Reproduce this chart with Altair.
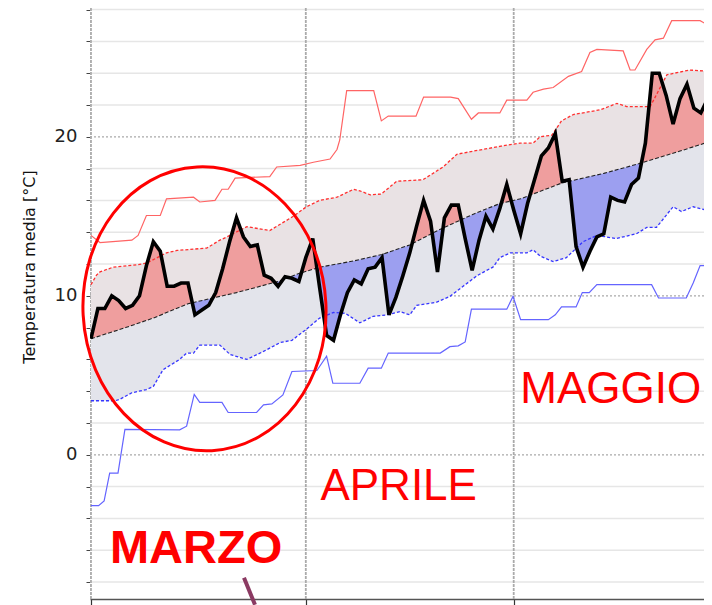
import altair as alt
import numpy as np
import pandas as pd

# ---------------- data (day 0 = 1 March) ----------------
obs_day = list(range(91))
obs_temp = [7.3, 9.2, 9.2, 10.0, 9.7, 9.2, 9.4, 10.0, 11.9, 13.4,
            12.8, 10.6, 10.6, 10.8, 10.8, 8.8, 9.1, 9.4, 10.2, 11.7,
            13.4, 14.9, 13.7, 13.1, 13.2, 11.3, 11.1, 10.6, 11.2, 11.1,
            10.9, 12.4, 13.6, 10.5, 7.5, 7.2, 8.8, 10.2, 11.0, 10.75,
            11.7, 11.8, 12.4, 8.8, 9.9, 11.25, 12.7, 14.4, 16.0, 14.7,
            11.5, 14.9, 15.7, 15.7, 13.6, 11.6, 13.5, 15.0, 14.2, 15.5,
            17.0, 15.4, 13.9, 15.8, 17.3, 18.8, 19.3, 20.2, 17.2, 17.3,
            13.1, 11.8, 12.8, 13.7, 13.9, 16.2, 16.0, 15.9, 17.0, 17.4,
            19.6, 24.0, 24.0, 22.6, 20.8, 22.4, 23.3, 21.8, 21.5, 22.4, 21.9]

clim_day = [0, 5, 9, 14, 21, 27, 30, 33, 38, 42, 46, 50, 55, 59, 62, 68, 74, 79, 85, 90]
clim_temp = [7.3, 8.0, 8.6, 9.5, 10.2, 10.9, 11.4, 11.8, 12.2, 12.6, 13.2, 14.1,
             15.1, 15.8, 16.1, 17.1, 17.7, 18.3, 19.1, 19.8]

upper_day = [0, 0.8, 1.3, 3.2, 6.6, 8, 10.9, 12.4, 16.7, 18.6, 19.6, 22.5, 25.8, 27.3,
             29.2, 31.1, 33, 35.5, 37.9, 38.8, 40.3, 41.9, 44.1, 47.9, 50.8, 52.8, 55.2,
             59, 61.9, 63.8, 64.8, 66.5, 67.9, 69.6, 73.5, 75.9, 77.3, 80.7, 83.1, 86.4, 89.6]
upper_temp = [10.7, 11.3, 11.5, 11.8, 11.95, 12.05, 12.7, 12.85, 13.0, 13.5, 13.7, 14.35,
              14.1, 14.5, 15.0, 15.6, 16.0, 16.2, 16.7, 16.6, 16.35, 16.4, 17.2, 17.3,
              18.1, 18.9, 19.1, 19.4, 19.6, 19.6, 20.0, 20.1, 21.0, 21.4, 21.7, 22.1,
              21.9, 21.9, 23.9, 24.2, 24.1]

lower_day = [0, 3.5, 4.2, 5.9, 8, 9, 10.4, 12.8, 13.8, 14.8, 15.7, 18.6, 20.1, 22.5, 24.9,
             27.3, 29, 31.1, 33, 35, 36.7, 38.8, 40.7, 42.7, 44.6, 46, 47, 49.9, 51.8,
             53.7, 55.7, 57.1, 58, 59, 60.5, 62.9, 63.8, 64.8, 66.7, 68.6, 71, 73, 75.8,
             78.7, 80.2, 81.6, 84, 85.2, 86.9, 89.6]
lower_temp = [3.4, 3.4, 3.5, 3.9, 4.1, 4.3, 5.35, 6.0, 6.4, 6.4, 6.9, 6.9, 6.3, 6.0, 6.5,
              7.06, 7.2, 7.9, 8.6, 8.95, 8.9, 8.3, 8.7, 8.8, 9.0, 8.8, 9.4, 9.6, 9.96,
              10.6, 11.26, 11.6, 11.8, 12.4, 12.7, 12.7, 12.9, 12.5, 12.15, 12.4, 13.4,
              13.8, 13.6, 13.9, 14.3, 14.3, 15.6, 15.3, 15.6, 15.3]

rmax_day = [0, 1.3, 5.9, 6.8, 8, 10, 10.9, 14.8, 15.7, 17.9, 18.9, 19.8, 20.8, 25.8, 26.8,
            30.2, 32.1, 34.5, 35.5, 35.9, 36.9, 40.8, 41.9, 42.9, 46.9, 48, 51.9, 53,
            54.9, 55.9, 59, 60, 62.9, 63.8, 65.3, 66.7, 68.9, 70.8, 72, 73, 76.8, 77.8,
            78.5, 80.2, 81.4, 82.6, 83.8, 87.9, 89.6]
rmax_temp = [13.8, 13.35, 13.5, 13.8, 15.05, 15.05, 16.1, 16.2, 15.9, 16.0, 16.7, 16.7,
             17.4, 17.5, 18.1, 18.2, 18.4, 18.6, 19.2, 19.8, 22.9, 22.9, 21.0, 21.3,
             21.3, 22.5, 22.5, 22.4, 21.1, 21.5, 21.5, 22.3, 22.3, 22.8, 23.0, 23.1,
             23.8, 24.1, 25.3, 25.5, 25.4, 24.2, 24.2, 25.5, 26.1, 26.2, 27.3, 27.3, 26.9]

rmin_day = [0, 1.1, 1.9, 2.7, 3.9, 4.9, 12.8, 13.8, 14.9, 15.7, 18.9, 19.8, 23.9, 24.9,
            26.1, 27.7, 29, 32.6, 34, 34.9, 38.8, 40, 41.9, 42.9, 50.4, 51.8, 53, 54,
            54.9, 60, 60.9, 62, 66, 67, 67.9, 70, 70.9, 71.9, 73, 80.9, 81.9, 85.9,
            86.9, 87.9, 89.6]
rmin_temp = [-3.2, -3.2, -2.9, -1.15, -1.15, 1.6, 1.57, 1.8, 3.8, 3.3, 3.3, 2.66, 2.66,
             3.14, 3.2, 3.77, 5.24, 5.3, 6.2, 4.5, 4.5, 5.45, 5.45, 6.4, 6.4, 6.8, 6.85,
             7.1, 9.16, 9.16, 9.96, 8.5, 8.5, 8.8, 9.3, 9.3, 10.2, 10.2, 10.7, 10.7,
             9.86, 9.86, 10.8, 11.9, 11.9]

ytick_values = [-8, -6, -4, -2, 0, 2, 4, 6, 8, 10, 12, 14, 16, 18, 20, 22, 24, 26, 28]
ygrid_minor = [-8, -6, -4, -2, 2, 4, 6, 8, 12, 14, 16, 18, 22, 24, 26, 28]
ygrid_major = [0, 10, 20]
month_start = [0, 31, 61]

month_labels = ["MARZO", "APRILE", "MAGGIO"]
label_day = [15.17, 44.4, 75.0]
label_temp = [-6.81, -2.83, 3.27]

# ---------------- tables built for the library ----------------
def merged(xa, ya, xb, yb):
    xs = np.union1d(np.asarray(xa, float), np.asarray(xb, float))
    return xs, np.interp(xs, xa, ya), np.interp(xs, xb, yb)

xs, o, c = merged(obs_day, obs_temp, clim_day, clim_temp)
rows = []
for i in range(len(xs)):
    rows.append((xs[i], o[i], c[i]))
    if i < len(xs) - 1:
        d0 = o[i] - c[i]
        d1 = o[i + 1] - c[i + 1]
        if d0 * d1 < 0:
            t = d0 / (d0 - d1)
            xc = xs[i] + t * (xs[i + 1] - xs[i])
            yc = c[i] + t * (c[i + 1] - c[i])
            rows.append((xc, yc, yc))
fill = pd.DataFrame(rows, columns=["day", "obs", "clim"])
fill["hi"] = np.maximum(fill["obs"], fill["clim"])
fill["lo"] = np.minimum(fill["obs"], fill["clim"])

xu, uu, cu = merged(upper_day, upper_temp, clim_day, clim_temp)
band_up = pd.DataFrame({"day": xu, "a": uu, "b": cu})
xl, ll, cl = merged(lower_day, lower_temp, clim_day, clim_temp)
band_lo = pd.DataFrame({"day": xl, "a": ll, "b": cl})

obs_df = pd.DataFrame({"day": obs_day, "temp": obs_temp})
clim_df = pd.DataFrame({"day": clim_day, "temp": clim_temp})
up_df = pd.DataFrame({"day": upper_day, "temp": upper_temp})
lo_df = pd.DataFrame({"day": lower_day, "temp": lower_temp})
rmax_df = pd.DataFrame({"day": rmax_day, "temp": rmax_temp})
rmin_df = pd.DataFrame({"day": rmin_day, "temp": rmin_temp})

# ---------------- scales & axes ----------------
XS = alt.Scale(domain=[-0.14, 88.46], nice=False, zero=False)
YS = alt.Scale(domain=[-9.07, 28.1], nice=False, zero=False)

Y_AXIS = alt.Axis(values=ytick_values, format="d",
                  labelExpr="datum.value % 10 == 0 ? datum.label : ''",
                  tickSize=4, tickColor="#444444", tickWidth=1, domain=False, grid=False,
                  labelFont="DejaVu Sans", labelFontSize=18, labelColor="#222222",
                  labelPadding=9, labelOverlap=False,
                  title="Temperatura media [°C]", titleFont="DejaVu Sans",
                  titleFontSize=16, titleFontWeight="normal", titleColor="#111111",
                  titleAngle=270, titleAlign="center", titleBaseline="middle",
                  titleX=-61, titleY=258.5)
X_AXIS = alt.Axis(values=month_start, labels=False, tickSize=6, tickColor="#333333",
                  tickWidth=1.2, domain=True, domainColor="#555555", domainWidth=1.5,
                  grid=False, title="")


def X(field):
    return alt.X(field, type="quantitative", scale=XS, axis=X_AXIS)


def Y(field):
    return alt.Y(field, type="quantitative", scale=YS, axis=Y_AXIS)


layers = []

layers.append(alt.Chart(pd.DataFrame({"v": ygrid_minor})).mark_rule(
    color="#e6e6e6", strokeWidth=1.5).encode(y=Y("v")))
layers.append(alt.Chart(pd.DataFrame({"v": ygrid_major})).mark_rule(
    color="#a9a9a9", strokeWidth=1.2, strokeDash=[2, 2]).encode(y=Y("v")))
layers.append(alt.Chart(pd.DataFrame({"d": month_start})).mark_rule(
    color="#aaaaaa", strokeWidth=1.8, strokeDash=[3, 1]).encode(x=X("d")))

layers.append(alt.Chart(band_up).mark_area(color="#e9e2e4", opacity=1, clip=True).encode(
    x=X("day"), y=Y("a"), y2="b"))
layers.append(alt.Chart(band_lo).mark_area(color="#e3e4eb", opacity=1, clip=True).encode(
    x=X("day"), y=Y("a"), y2="b"))

layers.append(alt.Chart(fill).mark_area(color="#ef9e9e", opacity=1, clip=True).encode(
    x=X("day"), y=Y("hi"), y2="clim"))
layers.append(alt.Chart(fill).mark_area(color="#9c9ff0", opacity=1, clip=True).encode(
    x=X("day"), y=Y("lo"), y2="clim"))

layers.append(alt.Chart(rmax_df).mark_line(color="#ff6464", strokeWidth=1.2, clip=True).encode(
    x=X("day"), y=Y("temp")))
layers.append(alt.Chart(rmin_df).mark_line(color="#6464ff", strokeWidth=1.2, clip=True).encode(
    x=X("day"), y=Y("temp")))
layers.append(alt.Chart(up_df).mark_line(color="#ff3030", strokeWidth=1.3, strokeDash=[3, 2],
                                         clip=True).encode(x=X("day"), y=Y("temp")))
layers.append(alt.Chart(lo_df).mark_line(color="#3535ff", strokeWidth=1.3, strokeDash=[3, 2],
                                         clip=True).encode(x=X("day"), y=Y("temp")))
layers.append(alt.Chart(clim_df).mark_line(color="#222222", strokeWidth=1.1, strokeDash=[4, 2],
                                           clip=True).encode(x=X("day"), y=Y("temp")))
layers.append(alt.Chart(obs_df).mark_line(color="#000000", strokeWidth=3.6, clip=True).encode(
    x=X("day"), y=Y("temp")))

# annotation ellipse (custom symbol path, unit coords)
a = 121.5 / 142.0
k = 0.5523
ell = (f"M 0 -1 C {k*a:.4f} -1 {a:.4f} {-k:.4f} {a:.4f} 0 "
       f"C {a:.4f} {k:.4f} {k*a:.4f} 1 0 1 "
       f"C {-k*a:.4f} 1 {-a:.4f} {k:.4f} {-a:.4f} 0 "
       f"C {-a:.4f} {-k:.4f} {-k*a:.4f} -1 0 -1 Z")
layers.append(alt.Chart(pd.DataFrame({"day": [16.38], "temp": [9.18]})).mark_point(
    shape=ell, size=284 * 284, filled=False, color="#ff0000", strokeWidth=3, opacity=1,
    angle=357).encode(x=X("day"), y=Y("temp")))

# month labels
lab = pd.DataFrame({"day": label_day, "temp": label_temp, "label": month_labels})
layers.append(alt.Chart(lab.iloc[[0]]).mark_text(
    font="Liberation Sans", fontSize=47, fontWeight="bold", color="#ff0000",
    align="center", baseline="alphabetic").encode(x=X("day"), y=Y("temp"), text="label:N"))
layers.append(alt.Chart(lab.iloc[1:]).mark_text(
    font="Liberation Sans", fontSize=44, fontWeight="normal", color="#ff0000",
    align="center", baseline="alphabetic").encode(x=X("day"), y=Y("temp"), text="label:N"))

# pointer stub at bottom
seg = pd.DataFrame({"d1": [22.08], "t1": [-7.74], "d2": [23.67], "t2": [-9.43]})
layers.append(alt.Chart(seg).mark_rule(color="#8b3a62", strokeWidth=4).encode(
    x=X("d1"), y=Y("t1"), x2="d2", y2="t2"))

chart = alt.layer(*layers).properties(
    width=614, height=591,
    padding={"left": 82, "top": 0, "right": 0, "bottom": 6},
    autosize=alt.AutoSizeParams(type="none"),
    background="#ffffff",
).configure_view(strokeWidth=0)

chart.save("out.html", embed_options={"renderer": "svg", "actions": False})
